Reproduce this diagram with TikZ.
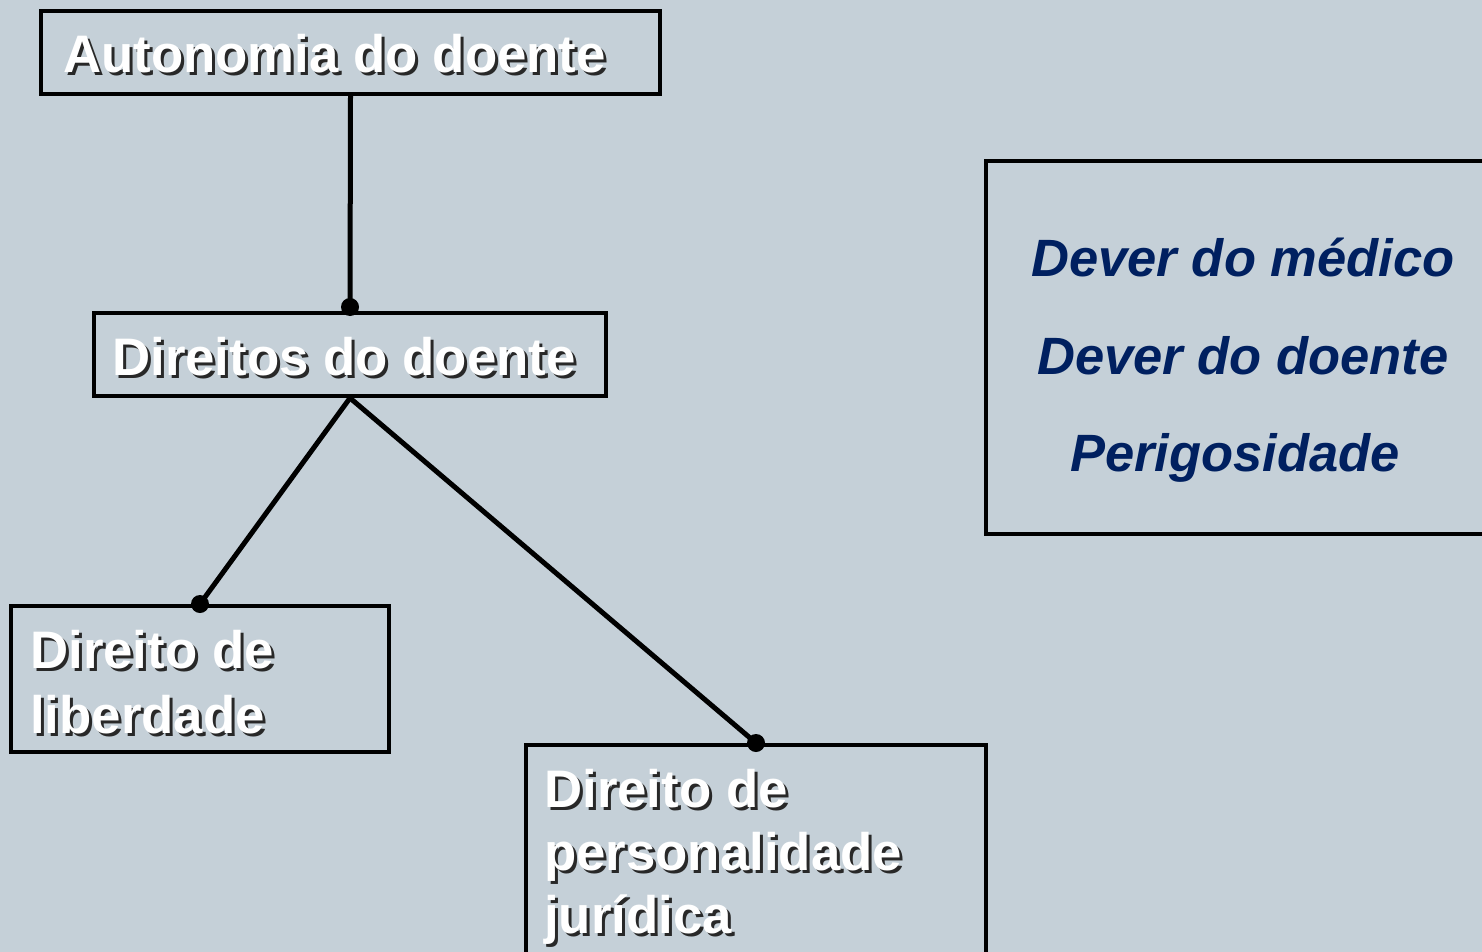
\documentclass[tikz,border=0pt]{standalone}
\usepackage{fontspec}
\setmainfont{Liberation Sans}
\definecolor{bgc}{RGB}{197,208,216}
\definecolor{shadowc}{RGB}{40,40,40}
\definecolor{navy}{RGB}{0,32,96}
\newcommand\shtxt[1]{\mbox{\rlap{\kern3pt\raisebox{-3pt}{\color{shadowc}#1}}#1}}
\begin{document}
\begin{tikzpicture}[x=1pt,y=-1pt,
  box/.style={draw=black,line width=4pt,inner sep=0pt,anchor=center},
  wtxt/.style={inner sep=0pt,anchor=base west,text=white,font=\fontsize{52.8}{63}\selectfont\bfseries},
  ntxt/.style={inner sep=0pt,anchor=base,text=navy,font=\fontsize{52.5}{63}\selectfont\bfseries\itshape},
  conn/.style={line width=5pt,line cap=round},
  dotc/.style={fill=black}]
\useasboundingbox (0,0) rectangle (1482,952);
\clip (0,0) rectangle (1482,952);
\fill[bgc] (0,0) rectangle (1482,952);

% boxes
\node[box,minimum width=619pt,minimum height=83pt] (auto) at (350.5,52.5) {};
\node[box,minimum width=512pt,minimum height=83pt] (dir) at (350,354.5) {};
\node[box,minimum width=378pt,minimum height=146pt] (lib) at (200,679) {};
\node[box,minimum width=460pt,minimum height=213pt] (pers) at (756,851.5) {};
\node[box,minimum width=514pt,minimum height=373pt] (dev) at (1243,347.5) {};

% texts
\node[wtxt] (autot) at (63,73) {\shtxt{Autonomia do doente}};
\node[wtxt] (dirt) at (112,375) {\shtxt{Direitos do doente}};
\node[wtxt] (libt1) at (30,668) {\shtxt{Direito de}};
\node[wtxt] (libt2) at (30,733) {\shtxt{liberdade}};
\node[wtxt] (perst1) at (544,807) {\shtxt{Direito de}};
\node[wtxt] (perst2) at (544,870) {\shtxt{personalidade}};
\node[wtxt] (perst3) at (544,933) {\shtxt{jurídica}};
\node[ntxt] (devt1) at (1243,276) {Dever do médico};
\node[ntxt] (devt2) at (1243,374) {Dever do doente};
\node[ntxt] (devt3) at (1235,471) {Perigosidade};

% connectors
\coordinate (d1) at ([yshift=4pt]dir.north);
\draw[conn] (auto.south) -- (d1);
\fill[dotc] (d1) circle (9pt);
\draw[conn] (dir.south) -- (lib.north);
\fill[dotc] (lib.north) circle (9pt);
\draw[conn] (dir.south) -- (pers.north);
\fill[dotc] (pers.north) circle (9pt);
\end{tikzpicture}
\end{document}
